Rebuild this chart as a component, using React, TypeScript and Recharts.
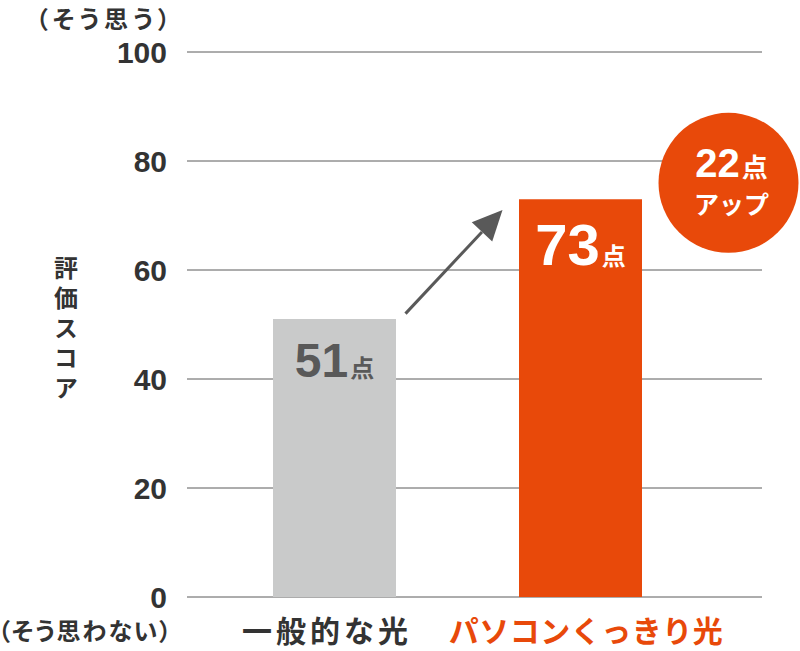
import React from "react";
import {
  BarChart,
  Bar,
  XAxis,
  YAxis,
  CartesianGrid,
  Cell,
  LabelList,
  Customized,
} from "recharts";

const categories = ["一般的な光", "パソコンくっきり光"];
const scores = [51, 73];
const yTicks = [0, 20, 40, 60, 80, 100];
const categoryColors = ["#333333", "#e8490a"];
const barColors = ["#c9caca", "#e8490a"];

const data = categories.map((name, i) => ({ name, score: scores[i] }));

const W = 800;
const H = 651;
const MARGIN = { top: 52, right: 38, bottom: 0, left: 0 };
const Y_AXIS_W = 187;
const X_AXIS_H = 54;
const PAD = { left: 24, right: 59 };
const BAR_SIZE = 123;

// plot box, used for the annotations
const PLOT_LEFT = MARGIN.left + Y_AXIS_W;
const PLOT_TOP = MARGIN.top;
const PLOT_W = W - PLOT_LEFT - MARGIN.right;
const PLOT_H = H - MARGIN.top - MARGIN.bottom - X_AXIS_H;
const BAND = (PLOT_W - PAD.left - PAD.right) / categories.length;
const yAt = (v: number) => PLOT_TOP + PLOT_H * (1 - v / 100);
const barCenter = (i: number) => PLOT_LEFT + PAD.left + BAND * (i + 0.5);

const JP = "'Noto Sans CJK JP', 'Liberation Sans', sans-serif";
const NUM = "'Liberation Sans', Arial, sans-serif";

function CategoryTick(props: any) {
  const { x, y, payload, index } = props;
  return (
    <text
      x={index === 0 ? x - 7 : x + 6}
      y={y + 37}
      textAnchor="middle"
      fontFamily={JP}
      fontWeight={700}
      fontSize={30}
      letterSpacing={index === 0 ? 4 : 0.5}
      fill={categoryColors[index]}
    >
      {payload.value}
    </text>
  );
}

function ValueLabel(props: any) {
  const { x, y, width, value, index } = props;
  const big = index === 0 ? 48 : 58;
  const color = index === 0 ? "#595959" : "#ffffff";
  const dy = index === 0 ? 58 : 66;
  return (
    <text
      x={x + width / 2}
      y={y + dy}
      textAnchor="middle"
      fill={color}
      fontWeight={700}
    >
      <tspan fontFamily={NUM} fontSize={big}>
        {value}
      </tspan>
      <tspan fontFamily={JP} fontSize={24} dx={2}>
        点
      </tspan>
    </text>
  );
}

function Annotations() {
  const sx = barCenter(0) + BAR_SIZE / 2 + 10;
  const sy = yAt(52);
  const tx = barCenter(1) - BAR_SIZE / 2 - 16;
  const ty = yAt(71);
  const ang = Math.atan2(ty - sy, tx - sx);
  const len = 30;
  const half = 14;
  const bx = tx - len * Math.cos(ang);
  const by = ty - len * Math.sin(ang);
  const px = -Math.sin(ang) * half;
  const py = Math.cos(ang) * half;

  const cx = barCenter(1) + BAR_SIZE / 2 + 87;
  const cy = yAt(76);
  const diff = scores[1] - scores[0];

  const palt = { fontFeatureSettings: '"palt"' };

  return (
    <g>
      <line
        x1={sx}
        y1={sy}
        x2={bx}
        y2={by}
        stroke="#595959"
        strokeWidth={3}
      />
      <polygon
        points={`${tx},${ty} ${bx + px},${by + py} ${bx - px},${by - py}`}
        fill="#595959"
      />

      <circle cx={cx} cy={cy} r={70} fill="#e8490a" />
      <text
        x={cx + 3}
        y={cy - 6}
        textAnchor="middle"
        fill="#fff"
        fontWeight={700}
      >
        <tspan fontFamily={NUM} fontSize={40}>
          {diff}
        </tspan>
        <tspan fontFamily={JP} fontSize={26} dx={2}>
          点
        </tspan>
      </text>
      <text
        x={cx + 3}
        y={cy + 31}
        textAnchor="middle"
        fill="#fff"
        fontFamily={JP}
        fontWeight={700}
        fontSize={25}
      >
        アップ
      </text>

      <text
        x={175}
        y={28}
        textAnchor="end"
        fontFamily={JP}
        fontWeight={700}
        fontSize={24}
        letterSpacing={5}
        fill="#333"
        style={palt}
      >
        （そう思う）
      </text>
      <text
        x={173}
        y={640}
        textAnchor="end"
        fontFamily={JP}
        fontWeight={700}
        fontSize={24}
        letterSpacing={1.8}
        fill="#333"
        style={palt}
      >
        （そう思わない）
      </text>
      <text
        x={66}
        y={256}
        writingMode="vertical-rl"
        fontFamily={JP}
        fontWeight={700}
        fontSize={24}
        letterSpacing={6}
        fill="#333"
      >
        評価スコア
      </text>
    </g>
  );
}

export default function App() {
  return (
    <div
      style={{
        position: "absolute",
        left: 0,
        top: 0,
        width: W,
        height: H,
        background: "#fff",
      }}
    >
      <BarChart width={W} height={H} data={data} margin={MARGIN}>
        <CartesianGrid vertical={false} stroke="#5a5a5a" strokeWidth={1} />
        <XAxis
          dataKey="name"
          height={X_AXIS_H}
          padding={PAD}
          axisLine={false}
          tickLine={false}
          interval={0}
          tick={<CategoryTick />}
        />
        <YAxis
          width={Y_AXIS_W}
          domain={[0, 100]}
          ticks={yTicks}
          axisLine={false}
          tickLine={false}
          tickSize={0}
          tickMargin={20}
          tick={{
            fontSize: 30,
            fontWeight: 700,
            fill: "#333",
            fontFamily: NUM,
          }}
        />
        <Bar dataKey="score" barSize={BAR_SIZE} isAnimationActive={false}>
          {data.map((d, i) => (
            <Cell key={d.name} fill={barColors[i]} />
          ))}
          <LabelList dataKey="score" content={<ValueLabel />} />
        </Bar>
        <Customized component={Annotations} />
      </BarChart>
    </div>
  );
}
